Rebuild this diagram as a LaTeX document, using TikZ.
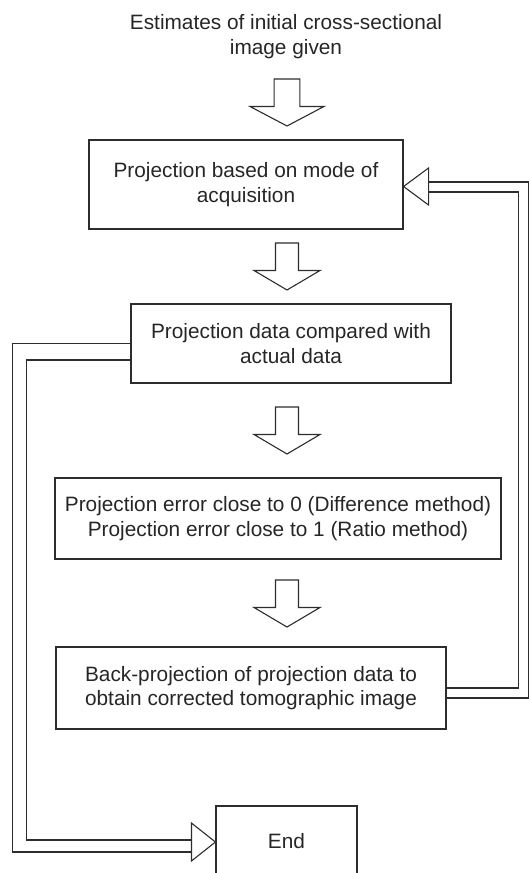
\documentclass[tikz,border=0pt]{standalone}
\usepackage{fontspec}
\setmainfont{Liberation Sans}
\usetikzlibrary{calc}
\definecolor{ink}{RGB}{38,38,38}
\definecolor{linec}{RGB}{45,45,45}
\begin{document}
\begin{tikzpicture}[x=1pt,y=-1pt,
  line/.style={draw=linec,line width=1.1pt,line join=miter},
  txt/.style={inner sep=0pt,align=center,text=ink,font=\fontsize{20.8}{24.5}\selectfont},
  box/.style={line,rectangle,txt},
  conn/.style={line},
  headtri/.style={line,fill=white},
  blockarr/.pic={\draw[line,fill=white] (-11.5,-23.5) -- (11.5,-23.5) -- (11.5,4) -- (33,4) -- (0,23.5) -- (-33,4) -- (-11.5,4) -- cycle;}
]
\useasboundingbox (0,0) rectangle (529,873);

% title
\node[txt,anchor=north] (title) at (286,14.5) {Estimates of initial cross-sectional\\image given};

% boxes
\node[box,minimum width=314pt,minimum height=89pt] (b1) at (246,184.5) {Projection based on mode of\\acquisition};
\node[box,minimum width=320pt,minimum height=79pt] (b2) at (291,343.5) {Projection data compared with\\actual data};
\node[box,minimum width=446pt,minimum height=81pt] (b3) at (278,518.5) {Projection error close to 0 (Difference method)\\Projection error close to 1 (Ratio method)};
\node[box,minimum width=390pt,minimum height=82pt] (b4) at (251,688) {Back-projection of projection data to\\obtain corrected tomographic image};
\node[box,minimum width=141pt,minimum height=70pt] (b5) at (286.5,841) {End};

% block arrows between steps
\pic[xscale=1.12] at (287,102.5) {blockarr};
\pic at (287,266.5) {blockarr};
\pic at (287,430.5) {blockarr};
\pic at (287,603.5) {blockarr};

% right feedback loop (back-projection -> projection)
\draw[conn] (b4.east) -- ++(72,0) |- ($(b1.east)+(25,7.5)$);
\draw[conn] ($(b4.east)+(0,10)$) -- ++(82,0) |- ($(b1.east)+(25,-2.5)$);
\draw[headtri] ($(b1.east)+(0,2)$) -- ++(25,-18.5) -- ++(0,37) -- cycle;

% left loop (comparison -> end)
\draw[conn] (b2.west) -- ++(-118,0) |- ($(b5.west)+(-24,11)$);
\draw[conn] ($(b2.west)+(0,16.5)$) -- ++(-104,0) |- ($(b5.west)+(-24,-1)$);
\draw[headtri] ($(b5.west)+(0,1)$) -- ++(-24,-19) -- ++(0,38) -- cycle;
\end{tikzpicture}
\end{document}
